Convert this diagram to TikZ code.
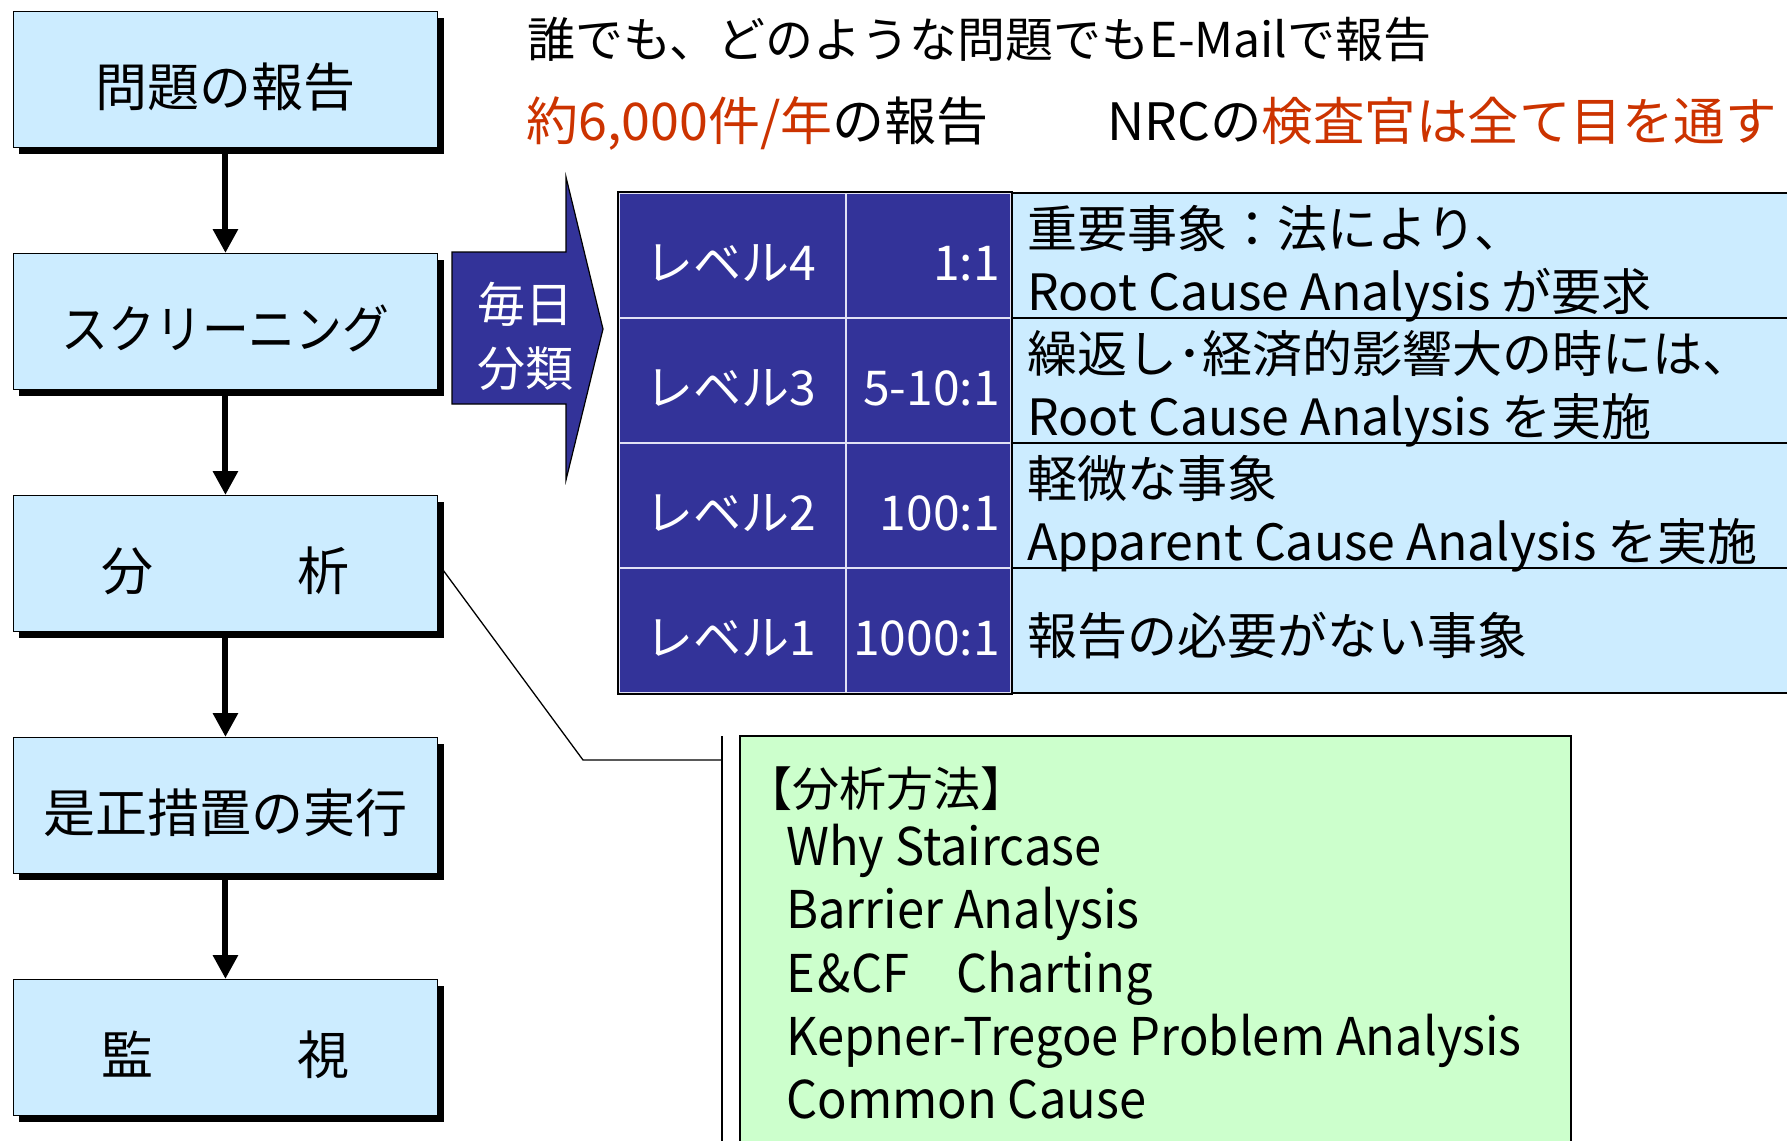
\documentclass[tikz,border=0pt]{standalone}
\usepackage{fontspec}
\setmainfont{Noto Sans CJK JP}
\newfontfamily\narrowfont{Noto Sans CJK JP}[FakeStretch=0.94]
\newfontfamily\slimfont{Noto Sans CJK JP}[FakeStretch=0.9]
\usetikzlibrary{arrows.meta,shadows}
\definecolor{boxblue}{RGB}{204,236,255}
\definecolor{deepblue}{RGB}{51,51,153}
\definecolor{mintgreen}{RGB}{204,255,204}
\definecolor{alertred}{RGB}{204,51,0}
\definecolor{gridwhite}{RGB}{225,225,245}
\newcommand{\fsz}[1]{\fontsize{#1pt}{#1pt}\selectfont}
\begin{document}
\begin{tikzpicture}[x=1pt,y=-1pt,
  flowbox/.style={draw=black, line width=1.2pt, fill=boxblue, minimum width=424.5pt,
    minimum height=136pt, inner sep=0pt, anchor=north west, font=\fsz{52},
    text height=54pt, text depth=0pt,
    drop shadow={fill=black, opacity=1, shadow xshift=6pt, shadow yshift=-6pt}},
  flowarrow/.style={line width=6pt, -{Triangle[width=24pt,length=24pt]}},
  txt/.style={inner sep=0pt, anchor=base west, font=\fsz{48}},
  lvtext/.style={inner sep=0pt, anchor=base west, font=\fsz{48}, text=white},
  rttext/.style={inner sep=0pt, anchor=base east, font=\fsz{48}, text=white},
  desctext/.style={inner sep=0pt, anchor=base west, font=\fsz{50}},
  methtext/.style={inner sep=0pt, anchor=base west, font=\narrowfont\fsz{52}},
  dkcell/.style={draw=gridwhite, line width=2pt, fill=deepblue, anchor=north west,
    minimum height=125pt, inner sep=0pt},
  lvcell/.style={dkcell, minimum width=227pt},
  ratiocell/.style={dkcell, minimum width=165pt},
  desccell/.style={draw=black, line width=1.5pt, fill=boxblue, anchor=north west,
    minimum width=790pt, minimum height=125pt, inner sep=0pt},
  thinline/.style={line width=1.3pt}
]
\path[use as bounding box] (0,0) rectangle (1787,1140);
\clip (0,0) rectangle (1787,1140);

% headline texts
\node[txt] (t1) at (527,58) {誰でも、どのような問題でもE-Mailで報告};
\node[txt, font=\fsz{52}] (t2) at (526,140) {\textcolor{alertred}{約6,000件/年}の報告};
\node[txt, font=\fsz{51.5}] (t3) at (1107,140) {NRCの\textcolor{alertred}{検査官は全て目を通す}};

% flow boxes
\node[flowbox] (b1) at (12.6,11)  {問題の報告};
\node[flowbox, font=\slimfont\fsz{52}] (b2) at (12.6,253) {スクリーニング};
\node[flowbox] (b3) at (12.6,495) {分\hspace{144pt}析};
\node[flowbox] (b4) at (12.6,737) {是正措置の実行};
\node[flowbox] (b5) at (12.6,979) {監\hspace{144pt}視};

\draw[flowarrow] (b1.south) -- (b2.north);
\draw[flowarrow] (b2.south) -- (b3.north);
\draw[flowarrow] (b3.south) -- (b4.north);
\draw[flowarrow] (b4.south) -- (b5.north);

% daily classification arrow
\draw[line width=1.2pt, fill=deepblue] (452,252) -- (566,252) -- (566,177) -- (603,329)
  -- (566,480) -- (566,404) -- (452,404) -- cycle;
\node[inner sep=0pt, anchor=base, font=\fsz{48}, text=white] (daily1) at (525,322) {毎日};
\node[inner sep=0pt, anchor=base, font=\fsz{48}, text=white] (daily2) at (525,386) {分類};

% table
\node[desccell] (d4) at (1010,192) {};
\node[desccell] (d3) at (1010,317) {};
\node[desccell] (d2) at (1010,442) {};
\node[desccell] (d1) at (1010,567) {};
\node[lvcell] (l4) at (618,192) {};
\node[lvcell] (l3) at (618,317) {};
\node[lvcell] (l2) at (618,442) {};
\node[lvcell] (l1) at (618,567) {};
\node[ratiocell] (r4) at (845,192) {};
\node[ratiocell] (r3) at (845,317) {};
\node[ratiocell] (r2) at (845,442) {};
\node[ratiocell] (r1) at (845,567) {};
\draw[line width=1.5pt] (l4.north west) rectangle (r1.south east);

\node[lvtext] (l4t) at (645,280) {レベル4};
\node[lvtext] (l3t) at (645,405) {レベル3};
\node[lvtext] (l2t) at (645,530) {レベル2};
\node[lvtext] (l1t) at (645,655) {レベル1};
\node[rttext] (r4t) at (1000,280) {1:1};
\node[rttext] (r3t) at (1000,405) {5-10:1};
\node[rttext] (r2t) at (1000,530) {100:1};
\node[rttext] (r1t) at (1000,655) {1000:1};

\node[desctext] (d4a) at (1027,247) {重要事象：法により、};
\node[desctext] (d4b) at (1027,310) {Root Cause Analysis が要求};
\node[desctext] (d3a) at (1027,372) {繰返し･経済的影響大の時には、};
\node[desctext] (d3b) at (1027,435) {Root Cause Analysis を実施};
\node[desctext] (d2a) at (1027,497) {軽微な事象};
\node[desctext] (d2b) at (1027,560) {Apparent Cause Analysis を実施};
\node[desctext] (d1a) at (1027,654) {報告の必要がない事象};

% analysis methods box
\node[draw=black, line width=1.5pt, fill=mintgreen, anchor=north west,
  minimum width=831pt, minimum height=450pt, inner sep=0pt] (meth) at (739,735) {};
\node[inner sep=0pt, anchor=base west, font=\fsz{47}] (m0) at (745,806) {【分析方法】};
\node[methtext] (m1) at (786,865) {Why Staircase};
\node[methtext] (m2) at (786,928) {Barrier Analysis};
\node[methtext] (m3) at (786,992) {E\kern3pt\&CF\hspace{0.9em}Charting};
\node[methtext] (m4) at (786,1055) {Kepner-Tregoe Problem Analysis};
\node[methtext] (m5) at (786,1118) {Common Cause};

% callout
\coordinate (cbend) at (583,760);
\coordinate (cfoot) at (722,760);
\coordinate (bartop) at (722,736);
\coordinate (barbot) at (722,1150);
\draw[thinline] (b3.east) -- (cbend) -- (cfoot);
\draw[thinline] (bartop) -- (barbot);
\end{tikzpicture}
\end{document}
